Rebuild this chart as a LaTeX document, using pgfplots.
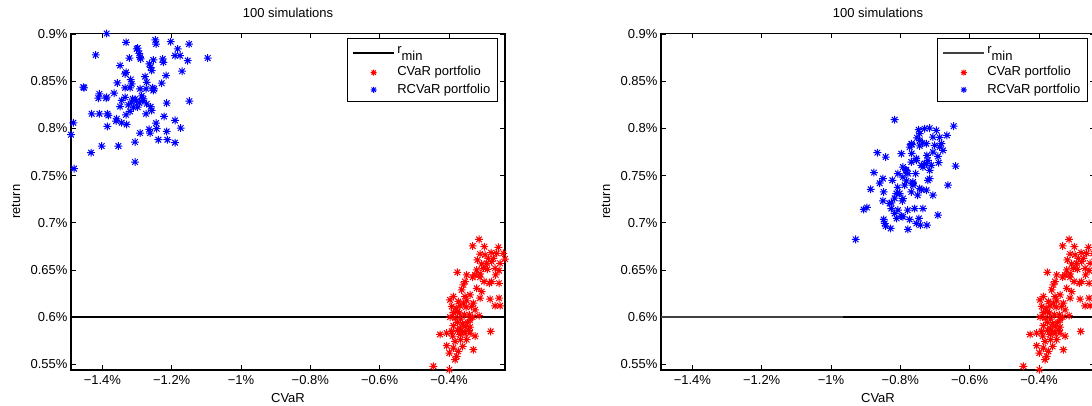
\documentclass[border=0pt]{standalone}
\usepackage{fontspec}
\setmainfont{Liberation Sans}
\usepackage{pgfplots}
\usepackage{pgfplotstable}
\pgfplotsset{compat=1.18}

\pgfdeclareplotmark{mstar}{%
  \pgfpathmoveto{\pgfqpoint{-\pgfplotmarksize}{0pt}}\pgfpathlineto{\pgfqpoint{\pgfplotmarksize}{0pt}}%
  \pgfpathmoveto{\pgfqpoint{0pt}{-\pgfplotmarksize}}\pgfpathlineto{\pgfqpoint{0pt}{\pgfplotmarksize}}%
  \pgfpathmoveto{\pgfqpoint{-.72\pgfplotmarksize}{-.72\pgfplotmarksize}}\pgfpathlineto{\pgfqpoint{.72\pgfplotmarksize}{.72\pgfplotmarksize}}%
  \pgfpathmoveto{\pgfqpoint{-.72\pgfplotmarksize}{.72\pgfplotmarksize}}\pgfpathlineto{\pgfqpoint{.72\pgfplotmarksize}{-.72\pgfplotmarksize}}%
  \pgfusepathqstroke}

% CVaR portfolio (same in both panels)
\pgfplotstableread{
x y
-0.3133 0.6824
-0.3316 0.6754
-0.2979 0.6747
-0.2575 0.6740
-0.2786 0.6683
-0.3104 0.6669
-0.2960 0.6659
-0.2863 0.6623
-0.2719 0.6623
-0.2383 0.6616
-0.3056 0.6564
-0.2912 0.6571
-0.2767 0.6588
-0.2527 0.6571
-0.3200 0.6500
-0.3008 0.6518
-0.2671 0.6518
-0.2556 0.6493
-0.3248 0.6447
-0.3104 0.6458
-0.2989 0.6377
-0.2767 0.6377
-0.2556 0.6359
-0.3758 0.6475
-0.3489 0.6447
-0.3316 0.6423
-0.3104 0.6423
-0.3537 0.6377
-0.3585 0.6342
-0.3633 0.6289
-0.3969 0.6183
-0.3729 0.6166
-0.3489 0.6173
-0.3296 0.6148
-0.3104 0.6201
-0.2815 0.6190
-0.2556 0.6201
-0.2527 0.6120
-0.2671 0.6120
-0.3921 0.6113
-0.3796 0.6095
-0.3681 0.6120
-0.3508 0.6106
-0.3344 0.6113
-0.3873 0.6050
-0.3700 0.6043
-0.3556 0.6025
-0.3412 0.6025
-0.3133 0.6015
-0.3969 0.6000
-0.3825 0.5990
-0.3662 0.5979
-0.3316 0.6000
-0.3758 0.5944
-0.3604 0.5930
-0.3460 0.5944
-0.3873 0.5909
-0.3681 0.5884
-0.3537 0.5902
-0.3392 0.5895
-0.3748 0.5859
-0.3604 0.5849
-0.3441 0.5859
-0.4258 0.5817
-0.4066 0.5831
-0.3893 0.5799
-0.3537 0.5824
-0.3392 0.5831
-0.3248 0.5799
-0.2796 0.5849
-0.3662 0.5761
-0.3825 0.5743
-0.4066 0.5697
-0.3873 0.5673
-0.3604 0.5690
-0.3296 0.5655
-0.3989 0.5620
-0.3729 0.5638
-0.3777 0.5585
-0.3825 0.5550
-0.4450 0.5479
-0.3989 0.5444
-0.3873 0.6218
-0.3537 0.6218
-0.3392 0.6236
-0.3056 0.6271
-0.3200 0.6306
-0.2835 0.6359
-0.2892 0.6507
-0.2652 0.6447
-0.3392 0.5972
-0.3758 0.6060
-0.3585 0.6148
-0.3248 0.6078
-0.3921 0.5849
-0.3489 0.5761
-0.3681 0.5817
-0.2623 0.6676
-0.3181 0.6606
-0.2431 0.6676
}\redtab

% RCVaR portfolio, left panel
\pgfplotstableread{
x y
-1.3875 0.9005
-1.4837 0.8060
-1.4904 0.7933
-1.4817 0.7574
-1.4192 0.8778
-1.4529 0.8430
-1.4548 0.8437
-1.4327 0.7743
-1.4308 0.8155
-1.4087 0.8155
-1.4087 0.8366
-1.4115 0.8320
-1.4019 0.7813
-1.3894 0.8320
-1.3875 0.8331
-1.3856 0.8155
-1.3827 0.8137
-1.3856 0.8021
-1.3663 0.8373
-1.3586 0.8102
-1.3606 0.8078
-1.3567 0.8482
-1.3538 0.7813
-1.3490 0.8666
-1.3490 0.8232
-1.3442 0.8296
-1.3346 0.8430
-1.3317 0.8912
-1.3298 0.8042
-1.3317 0.8144
-1.3346 0.8577
-1.3317 0.8595
-1.3221 0.8746
-1.3183 0.8518
-1.3154 0.8472
-1.3202 0.8430
-1.3154 0.8278
-1.3125 0.8313
-1.3106 0.8225
-1.3058 0.7856
-1.3058 0.7644
-1.3009 0.8842
-1.2981 0.8852
-1.2933 0.8796
-1.2913 0.8754
-1.2894 0.8736
-1.2913 0.8419
-1.2913 0.7951
-1.2836 0.8296
-1.2817 0.8313
-1.2769 0.8549
-1.2740 0.8155
-1.2721 0.8261
-1.2721 0.8489
-1.2644 0.8683
-1.2606 0.8648
-1.2577 0.8613
-1.2625 0.7951
-1.2577 0.8190
-1.2548 0.8430
-1.2529 0.8401
-1.2510 0.8419
-1.2529 0.8725
-1.2471 0.8937
-1.2452 0.8894
-1.2452 0.8056
-1.2432 0.7997
-1.2384 0.7880
-1.2259 0.8736
-1.2240 0.8701
-1.2288 0.8479
-1.2221 0.8127
-1.2163 0.8560
-1.2144 0.8268
-1.2144 0.7968
-1.2125 0.7880
-1.2029 0.8919
-1.1904 0.8085
-1.1904 0.8771
-1.1827 0.8842
-1.1904 0.7849
-1.1759 0.8771
-1.1740 0.8004
-1.1702 0.8606
-1.1538 0.8718
-1.1500 0.8894
-1.1490 0.8289
-1.0961 0.8746
-1.3009 0.8290
-1.2933 0.8270
-1.3058 0.8310
-1.2980 0.8225
-1.3202 0.8180
-1.2865 0.8345
-1.3346 0.8330
-1.2606 0.8230
-1.3250 0.8250
-1.2740 0.8420
-1.3442 0.8060
-1.2650 0.7990
}\blueleft

% RCVaR portfolio, right panel
\pgfplotstableread{
x y
-0.8164 0.8092
-0.6461 0.8024
-0.7471 0.7986
-0.7298 0.7997
-0.7154 0.8003
-0.6961 0.7979
-0.7442 0.7944
-0.7520 0.7901
-0.7059 0.7908
-0.6655 0.7926
-0.7442 0.7873
-0.7364 0.7844
-0.7682 0.7838
-0.7249 0.7838
-0.6816 0.7838
-0.7010 0.7820
-0.7442 0.7815
-0.7665 0.7828
-0.7731 0.7802
-0.6865 0.7802
-0.6770 0.7767
-0.7059 0.7749
-0.8663 0.7743
-0.7970 0.7732
-0.7232 0.7714
-0.6914 0.7704
-0.8423 0.7697
-0.7538 0.7680
-0.7538 0.7662
-0.7203 0.7662
-0.7682 0.7644
-0.6894 0.7637
-0.7298 0.7627
-0.7249 0.7627
-0.7105 0.7609
-0.7393 0.7609
-0.6404 0.7601
-0.7924 0.7591
-0.7347 0.7591
-0.7846 0.7563
-0.7826 0.7556
-0.8761 0.7532
-0.8068 0.7521
-0.7780 0.7521
-0.7558 0.7521
-0.7924 0.7485
-0.8501 0.7468
-0.7154 0.7468
-0.8230 0.7450
-0.7203 0.7450
-0.7826 0.7443
-0.7636 0.7432
-0.7636 0.7416
-0.6626 0.7398
-0.7636 0.7398
-0.7442 0.7363
-0.8856 0.7355
-0.7393 0.7352
-0.7249 0.7345
-0.8481 0.7327
-0.7682 0.7327
-0.8019 0.7310
-0.8115 0.7310
-0.7059 0.7292
-0.7924 0.7257
-0.8501 0.7232
-0.7941 0.7232
-0.8259 0.7211
-0.8308 0.7204
-0.8963 0.7162
-0.9058 0.7141
-0.8259 0.7151
-0.7587 0.7151
-0.7347 0.7151
-0.8068 0.7134
-0.8164 0.7099
-0.6914 0.7081
-0.7970 0.7070
-0.7924 0.7063
-0.7462 0.7046
-0.8481 0.7035
-0.7731 0.7035
-0.8452 0.6993
-0.7538 0.6993
-0.7422 0.6975
-0.7232 0.6975
-0.8423 0.6965
-0.8279 0.6940
-0.7780 0.6930
-0.9289 0.6824
-0.8077 0.7376
-0.7875 0.7398
-0.8164 0.7260
-0.7500 0.7292
-0.7788 0.7134
-0.8596 0.7419
-0.8106 0.7046
-0.7673 0.7735
-0.7154 0.7556
-0.6865 0.7905
}\blueright

\pgfplotsset{
  myax/.style={
    scale only axis, width=434pt, height=336.7pt,
    anchor=south west,
    xmin=-1.4905, xmax=-0.2383, ymin=0.5440, ymax=0.9008,
    xtick={-1.4,-1.2,-1,-0.8,-0.6,-0.4},
    xticklabels={−1.4\%,−1.2\%,−1\%,−0.8\%,−0.6\%,−0.4\%},
    ytick={0.55,0.6,0.65,0.7,0.75,0.8,0.85,0.9},
    yticklabels={0.55\%,0.6\%,0.65\%,0.7\%,0.75\%,0.8\%,0.85\%,0.9\%},
    tick align=inside, xtick pos=both, ytick pos=both,
    major tick length=5pt,
    tick style={black, line width=0.8pt},
    axis line style={black, line width=1.3pt},
    font=\fontsize{13}{15}\selectfont,
    xticklabel style={yshift=-1.5pt},
    title={100 simulations},
    title style={at={(axis description cs:0.5,1)}, anchor=south, yshift=6pt},
    xlabel={CVaR},
    xlabel style={at={(axis description cs:0.5,-0.0846)}, anchor=center},
    ylabel={return},
    ylabel style={at={(axis description cs:-0.127,0.5)}, anchor=center, rotate=0},
    legend cell align=left,
    legend style={at={(axis description cs:0.984,0.986)}, anchor=north east,
      draw=black, line width=1pt, inner xsep=5pt, inner ysep=3.5pt,
      column sep=0pt, row sep=0pt,
      nodes={inner sep=2.3pt, text height=9.5pt, text depth=3pt},
      font=\fontsize{13}{15}\selectfont},
    mark size=3.9pt,
  },
  linelegend/.style={legend image code/.code={\draw[##1] (0pt,0pt) -- (41pt,0pt);}},
  marklegend/.style={legend image code/.code={\draw[mark repeat=2,mark phase=2,##1,mark size=3pt] plot coordinates {(0pt,0pt) (20.5pt,0pt) (41pt,0pt)};}},
}

\newcommand{\rmin}{r\raisebox{-7pt}{min}}

\begin{document}
\begin{tikzpicture}
\useasboundingbox (0pt,0pt) rectangle (1092pt,406pt);

\begin{axis}[myax, at={(71pt,36pt)}]
\addplot[black, line width=1.5pt, linelegend] coordinates {(-1.4905,0.6) (-0.2383,0.6)};
\addlegendentry[text depth=8pt]{\rmin}
\addplot[only marks, mark=mstar, color=red, line width=1pt, marklegend] table[x=x,y=y] {\redtab};
\addlegendentry{CVaR portfolio}
\addplot[only marks, mark=mstar, color=blue, line width=1pt, marklegend] table[x=x,y=y] {\blueleft};
\addlegendentry{RCVaR portfolio}
\end{axis}

\begin{axis}[myax, at={(661pt,36pt)}]
\addplot[black!75, line width=1.5pt, linelegend] coordinates {(-1.4905,0.6) (-0.2383,0.6)};
\addlegendentry[text depth=8pt]{\rmin}
\addplot[only marks, mark=mstar, color=red, line width=1pt, marklegend] table[x=x,y=y] {\redtab};
\addlegendentry{CVaR portfolio}
\addplot[only marks, mark=mstar, color=blue, line width=1pt, marklegend] table[x=x,y=y] {\blueright};
\addlegendentry{RCVaR portfolio}
\addplot[black, line width=1.5pt, forget plot] coordinates {(-0.9655,0.6) (-0.2383,0.6)};
\end{axis}
\end{tikzpicture}
\end{document}
